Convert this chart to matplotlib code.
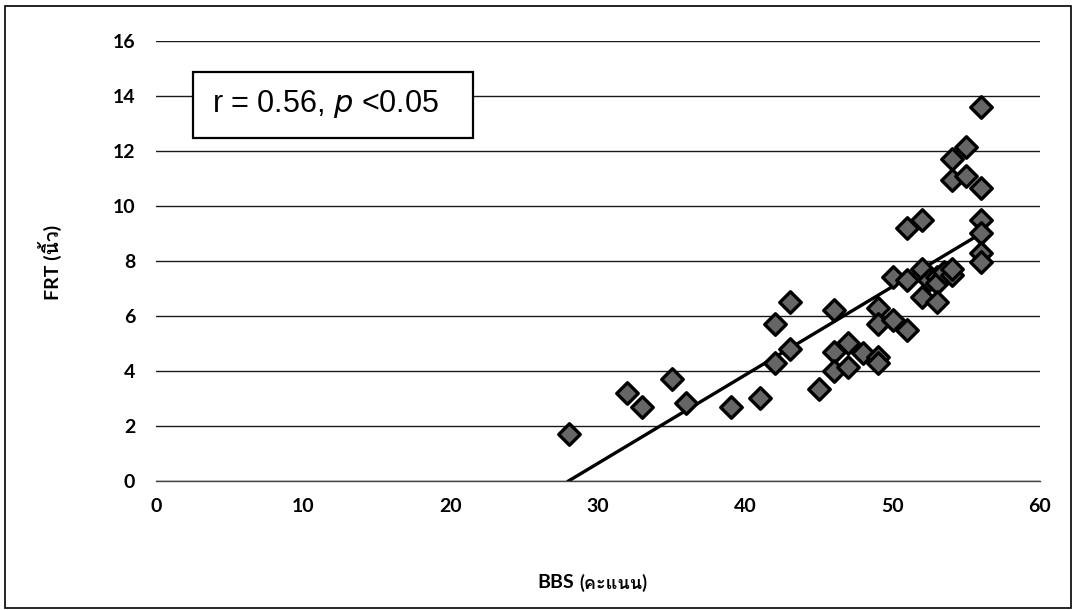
import matplotlib
matplotlib.use("Agg")
import matplotlib.pyplot as plt
from matplotlib import font_manager, ft2font
from matplotlib.patches import Rectangle

# data
bbs = [28, 32, 33, 35, 36, 39, 41, 42, 42, 43, 43, 45, 46, 46, 46, 47, 47, 48,
       49, 49, 49, 49, 50, 50, 51, 51, 51, 52, 52, 52, 52.5, 53, 53, 53, 53.5,
       54, 54, 54, 54, 55, 55, 56, 56, 56, 56, 56, 56]
frt = [1.7, 3.2, 2.7, 3.7, 2.85, 2.7, 3.0, 5.7, 4.3, 6.5, 4.8, 3.35, 6.2, 4.7,
       4.0, 5.0, 4.15, 4.65, 6.3, 5.7, 4.5, 4.3, 5.85, 7.4, 7.3, 5.5, 9.2, 9.5,
       7.7, 6.7, 7.3, 7.4, 7.2, 6.5, 7.6, 7.5, 7.7, 11.7, 10.95, 11.1, 12.15,
       13.6, 10.65, 9.5, 9.0, 8.3, 7.95]
trend_x = [28, 56]
trend_y = [0, 9.0]
x_ticks = [0, 10, 20, 30, 40, 50, 60]
y_ticks = [0, 2, 4, 6, 8, 10, 12, 14, 16]
stat_text = r"r = 0.56, $\mathit{p}$ <0.05"


def thai_family():
    for f in font_manager.fontManager.ttflist:
        try:
            if ord("ค") in ft2font.FT2Font(f.fname).get_charmap():
                return f.name
        except Exception:
            continue
    return None


fams = ["Lato", "DejaVu Sans"]
th = thai_family()
if th:
    fams = ["Lato", th, "DejaVu Sans"]
plt.rcParams["font.family"] = fams

fig = plt.figure(figsize=(10.76, 6.10), dpi=100)
ax = fig.add_axes([0.145, 0.2115, 0.8215, 0.7213])

ax.plot(trend_x, trend_y, color="black", lw=2.4, zorder=2)
ax.scatter(bbs, frt, marker="D", s=120, facecolor="#666666",
           edgecolor="black", linewidths=2.4, zorder=3)

ax.set_xlim(0, 60)
ax.set_ylim(0, 16)
ax.set_xticks(x_ticks)
ax.set_yticks(y_ticks)
ax.tick_params(length=0, labelsize=14, colors="#000000")
for lab in ax.get_xticklabels() + ax.get_yticklabels():
    lab.set_fontweight("bold")
ax.tick_params(axis="y", pad=15)
ax.tick_params(axis="x", pad=12)
ax.grid(axis="y", color="#1a1a1a", lw=1.0)
ax.set_axisbelow(True)
for s in ["left", "right", "top"]:
    ax.spines[s].set_visible(False)
ax.spines["bottom"].set_color("#444444")
ax.spines["bottom"].set_linewidth(1.0)

# stats box
ax_box = Rectangle((193 / 1076, 1 - 138 / 610), 280 / 1076, 66 / 610,
                   transform=fig.transFigure, facecolor="white",
                   edgecolor="black", lw=1.6, zorder=5)
fig.patches.append(ax_box)
fig.text(212 / 1076, 1 - 104 / 610, stat_text, fontsize=22,
         family="Liberation Sans", va="center", ha="left", zorder=6)

# axis labels
fig.text(50 / 1076, 1 - 262 / 610, "FRT (นิ้ว)", rotation=90, fontsize=14,
         fontweight="bold", ha="center", va="center")
fig.text(537 / 1076, 1 - 582 / 610, "BBS", fontsize=14, fontweight="bold",
         ha="left", va="center")
fig.text(579 / 1076, 1 - 583 / 610, "(คะแนน)", fontsize=13, fontweight="bold",
         ha="left", va="center")

# outer frame
fig.patches.append(Rectangle((5 / 1076, 2 / 610), 1066 / 1076, 602 / 610,
                             transform=fig.transFigure, fill=False,
                             edgecolor="black", lw=1.2))

fig.savefig("out.png", dpi=100)
